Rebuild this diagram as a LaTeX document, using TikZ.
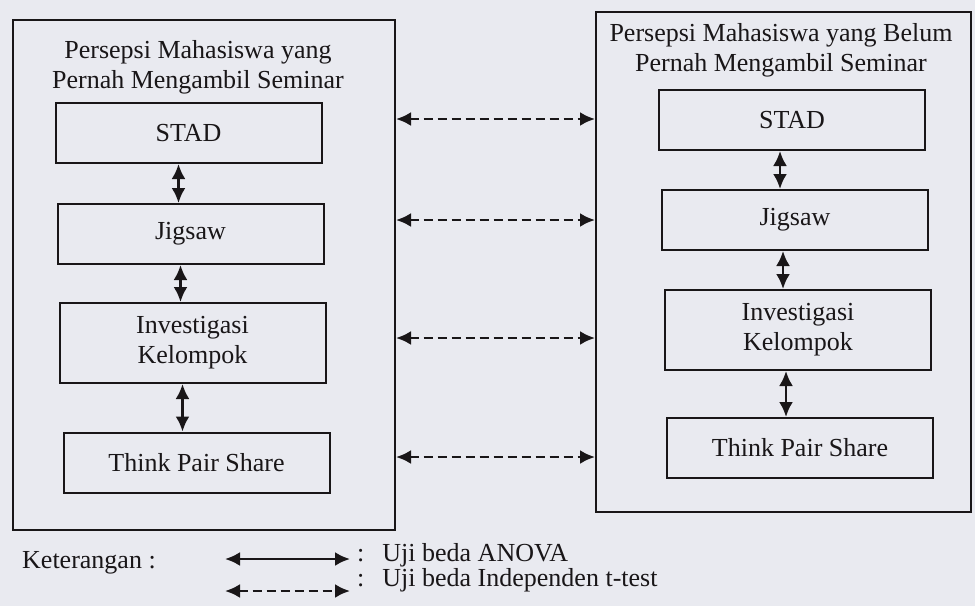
\documentclass[tikz,border=0pt]{standalone}
\usepackage{fontspec}
\setmainfont{Liberation Serif}
\usepackage{tikz}
\usetikzlibrary{positioning,arrows.meta}
\definecolor{bgclr}{RGB}{233,234,240}
\definecolor{lineclr}{RGB}{25,22,24}
\tikzset{ %
  ,>={Latex[length=15pt,width=14pt]}
  ,every node/.style={font=\fontsize{26}{30}\selectfont, text=lineclr}
  ,panel/.style={draw=lineclr, line width=2pt, inner sep=0, minimum width=382pt, minimum height=510pt}
  ,method/.style={draw=lineclr, line width=2pt, inner sep=0, minimum width=266pt, minimum height=60pt, align=center}
  ,header/.style={align=center, inner sep=0}
  ,anova/.style={<->, draw=lineclr, line width=2.6pt}
  ,ttest/.style={<->, draw=lineclr, line width=2.6pt, dash pattern=on 9pt off 5pt}
  ,legend/.style={anchor=base west, inner sep=0}
}
\begin{document}
\begin{tikzpicture}[x=1pt, y=-1pt]
    \fill[bgclr] (0,0) rectangle (975,606);
    \useasboundingbox (0,0) rectangle (975,606);
    % left panel
    \draw
    node[panel] (Lpanel) at (204,275) {}
    node[header] (Lhead) at (198,67) {Persepsi Mahasiswa yang\\Pernah Mengambil Seminar}
    node[method] (Lstad) at (188.5,133) {STAD}
    node[method] (Ljig) at (190.5,234) {Jigsaw}
    node[method, minimum height=80pt] (Linv) at (192.5,343) {Investigasi\\Kelompok}
    node[method] (Ltps) at (196.5,462.5) {Think Pair Share};
    \draw [anova] ([xshift=-10pt]Lstad.south) -- ([xshift=-10pt]Lstad.south |- Ljig.north);
    \draw [anova] ([xshift=-10pt]Ljig.south) -- ([xshift=-10pt]Ljig.south |- Linv.north);
    \draw [anova] ([xshift=-10pt]Linv.south) -- ([xshift=-10pt]Linv.south |- Ltps.north);
    % right panel
    \draw
    node[panel, minimum width=375pt, minimum height=500pt] (Rpanel) at (783.5,262) {}
    node[header] (Rhead) at (781,50) {Persepsi Mahasiswa yang Belum\\Pernah Mengambil Seminar}
    node[method] (Rstad) at (792,120) {STAD}
    node[method] (Rjig) at (795,220) {Jigsaw}
    node[method, minimum height=80pt] (Rinv) at (798,330) {Investigasi\\Kelompok}
    node[method] (Rtps) at (800,448) {Think Pair Share};
    \draw [anova] ([xshift=-12pt]Rstad.south) -- ([xshift=-12pt]Rstad.south |- Rjig.north);
    \draw [anova] ([xshift=-12pt]Rjig.south) -- ([xshift=-12pt]Rjig.south |- Rinv.north);
    \draw [anova] ([xshift=-12pt]Rinv.south) -- ([xshift=-12pt]Rinv.south |- Rtps.north);
    % between the panels
    \draw [ttest] (Lpanel.east |- 0,119) -- (Rpanel.west |- 0,119);
    \draw [ttest] (Lpanel.east |- 0,220) -- (Rpanel.west |- 0,220);
    \draw [ttest] (Lpanel.east |- 0,338) -- (Rpanel.west |- 0,338);
    \draw [ttest] (Lpanel.east |- 0,457) -- (Rpanel.west |- 0,457);
    % legend
    \node[legend] (key) at (22,568) {Keterangan :};
    \coordinate (s1) at (225,559);
    \coordinate (s2) at (350,559);
    \coordinate (d1) at (225,591);
    \coordinate (d2) at (350,591);
    \draw [anova] (s1) -- (s2);
    \draw [ttest] (d1) -- (d2);
    \node[legend] (anovakey) at (357,561) {:\hspace{18pt}Uji beda ANOVA};
    \node[legend] (ttestkey) at (357,586) {:\hspace{18pt}Uji beda Independen t-test};
\end{tikzpicture}
\end{document}
